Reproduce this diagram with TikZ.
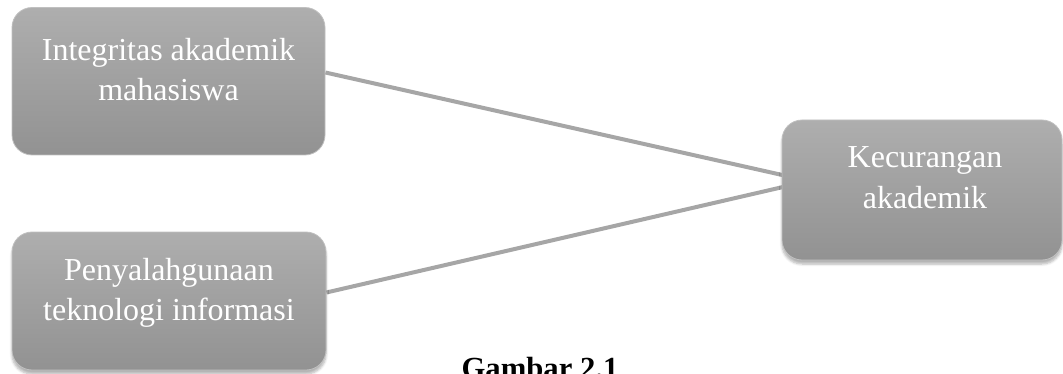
\documentclass[tikz,border=0pt]{standalone}
\usepackage{fontspec}
\setmainfont{Liberation Serif}
\usepackage{tikz}
\usetikzlibrary{backgrounds,shadows.blur}
\definecolor{boxtop}{RGB}{174,174,174}
\definecolor{boxbot}{RGB}{146,146,146}
\definecolor{boxline}{RGB}{192,192,192}
\definecolor{connline}{RGB}{166,166,166}

\begin{document}
\begin{tikzpicture}[x=0.75pt,y=-0.75pt,
      bx/.style={rectangle,rounded corners=15pt,draw=boxline,line width=0.6pt,
        top color=boxtop,bottom color=boxbot,inner sep=0pt},
      shd/.style={blur shadow={shadow xshift=0pt,shadow yshift=-3pt,
        shadow blur steps=6,shadow opacity=30}},
      tx/.style={align=center,text=white,inner sep=0pt,font=\fontsize{24}{30}\selectfont},
      conn/.style={draw=connline,line width=3pt}]
    \clip (0,0) rectangle (1063,374);
    \node[bx,minimum width=234.75pt,minimum height=110.6pt] (int) at (168.5,81.25) {};
    \node[bx,shd,minimum width=235.5pt,minimum height=103.5pt] (pen) at (169,301) {};
    \node[bx,shd,minimum width=210pt,minimum height=105pt] (kec) at (922,190) {};
    \node[tx] (ti) at (168.5,72.5) {\strut Integritas akademik\\\strut mahasiswa};
    \node[tx] (tp) at (169,292.5) {\strut Penyalahgunaan\\\strut teknologi informasi};
    \node[tx] (tk) at (925,180) {\strut Kecurangan\\\strut akademik};
    \coordinate (hub) at (809,181);
    \begin{scope}[on background layer]
      \draw[conn] (int.east |- ti) -- (hub);
      \draw[conn] (pen.east |- tp) -- (hub);
    \end{scope}
    \node[font=\fontsize{23}{28}\selectfont\bfseries,anchor=base] (cap) at (540,378.5) {Gambar 2.1};
  \end{tikzpicture}
\end{document}
